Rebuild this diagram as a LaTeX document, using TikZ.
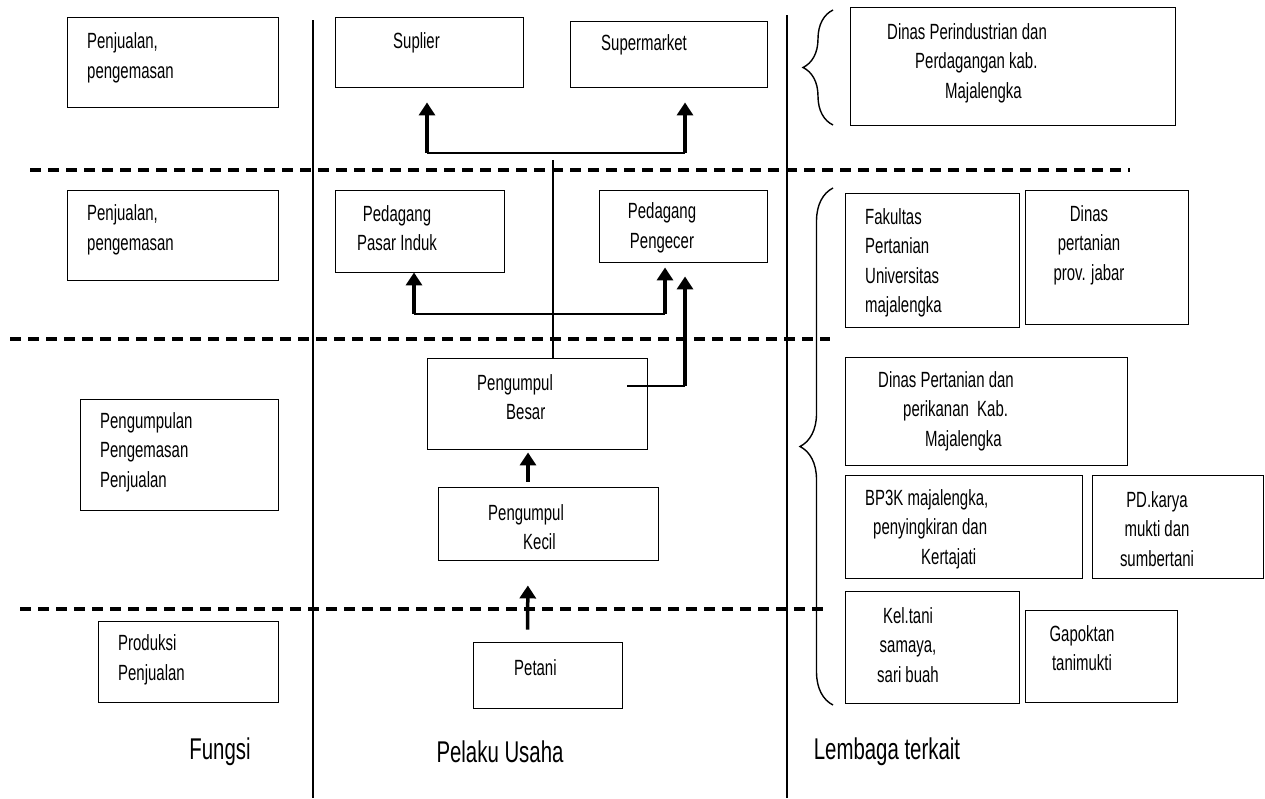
\documentclass[tikz,border=0pt]{standalone}
\usepackage{fontspec}
\setmainfont{Liberation Sans}[FakeStretch=0.68]
\usepackage{tikz}
\usetikzlibrary{positioning, arrows.meta, decorations.pathreplacing}

\begin{document}
\begin{tikzpicture}[%
    x=1pt, y=-1pt,
    >={Triangle[width=16pt,length=13pt]},
    box/.style={draw, line width=0.9pt, inner sep=0pt},
    txt/.style={anchor=west, align=left, inner sep=0pt, font=\fontsize{22}{29.5}\selectfont},
    ctxt/.style={txt, anchor=center, align=center},
    arr/.style={->, line width=3.5pt},
    link/.style={line width=2.2pt},
    sep/.style={line width=3.2pt, dash pattern=on 11pt off 7pt},
    col/.style={line width=1.8pt},
    brc/.style={decorate, decoration={brace, amplitude=#1}, line width=1.4pt},
    head/.style={inner sep=0pt, font=\fontsize{30}{32}\selectfont}
  ]
    \useasboundingbox (0,0) rectangle (1265,798);

    % kolom dan batas
    \draw[col] (313,20) -- (313,798);
    \draw[col] (787,15) -- (787,798);
    \draw[sep] (30,170) -- (1130,170);
    \draw[sep] (10,339) -- (830,339);
    \draw[sep] (20,609) -- (828,609);

    % fungsi
    \node[box, minimum width=211, minimum height=90] (f1) at (172.5,62) {};
    \node[txt] (f1t) at (87,58) {Penjualan,\\pengemasan};
    \node[box, minimum width=211, minimum height=90] (f2) at (172.5,235) {};
    \node[txt] (f2t) at (87,230) {Penjualan,\\pengemasan};
    \node[box, minimum width=198, minimum height=111] (f3) at (179,454.5) {};
    \node[txt] (f3t) at (100,452) {Pengumpulan\\Pengemasan\\Penjualan};
    \node[box, minimum width=180, minimum height=81] (f4) at (188,661.5) {};
    \node[txt] (f4t) at (118,660) {Produksi\\Penjualan};

    % pelaku usaha
    \node[box, minimum width=188, minimum height=70] (sup) at (429,52) {};
    \node[txt] (supt) at (393,43) {Suplier};
    \node[box, minimum width=197, minimum height=66] (sm) at (668.5,54) {};
    \node[txt] (smt) at (601,45) {Supermarket};
    \node[box, minimum width=169, minimum height=82] (pi) at (419.5,231) {};
    \node[ctxt] (pit) at (397,228) {Pedagang\\Pasar Induk};
    \node[box, minimum width=168, minimum height=72] (pe) at (683,226) {};
    \node[ctxt] (pet) at (662,228) {Pedagang\\Pengecer};
    \node[box, minimum width=220, minimum height=91] (pb) at (537,403.5) {};
    \node[txt] (pbt) at (477,397) {Pengumpul\\\hspace*{29pt}Besar};
    \node[box, minimum width=220, minimum height=73] (pk) at (548,523.5) {};
    \node[txt] (pkt) at (488,527) {Pengumpul\\\hspace*{35pt}Kecil};
    \node[box, minimum width=149, minimum height=66] (pt) at (547.5,675) {};
    \node[txt] (ptt) at (514,668) {Petani};

    % alur
    \coordinate (s1) at (427,153);
    \coordinate (s2) at (685,153);
    \coordinate (m1) at (414,314);
    \coordinate (m2) at (665,314);
    \coordinate (r1) at (627,386);
    \coordinate (r2) at (685,386);
    \draw[arr, shorten <=12pt, shorten >=25pt] ([xshift=-20pt]pt.north) -- ([xshift=-20pt]pk.south);
    \draw[arr, shorten <=5pt, shorten >=3pt] ([xshift=-20pt]pk.north) -- ([xshift=-20pt]pk.north |- pb.south);
    \draw[link, shorten >=7pt] ([xshift=16pt]pb.north) -- ([xshift=16pt]pb.north |- s1);
    \draw[link] (s1) -- (s2);
    \draw[arr, shorten >=15pt] (s1) -- (s1 |- sup.south);
    \draw[arr, shorten >=15pt] (s2) -- (s2 |- sm.south);
    \draw[link] (m1) -- (m2);
    \draw[arr] (m1) -- (m1 |- pi.south);
    \draw[arr, shorten >=5pt] (m2) -- (m2 |- pe.south);
    \draw[link] (r1) -- (r2);
    \draw[arr, shorten >=14pt] (r2) -- (r2 |- pe.south);

    % lembaga terkait
    \draw[brc=30pt] (833,125) -- (833,10);
    \draw[brc=33pt] (833,705) -- (833,188);
    \node[box, minimum width=325, minimum height=118] (d1) at (1012.5,66) {};
    \node[txt] (d1t) at (887,63) {Dinas Perindustrian dan\\\hspace*{28pt}Perdagangan kab.\\\hspace*{58pt}Majalengka};
    \node[box, minimum width=174, minimum height=134] (fk) at (932,260) {};
    \node[txt] (fkt) at (865,263) {Fakultas\\Pertanian\\Universitas\\majalengka};
    \node[box, minimum width=163, minimum height=134] (dp) at (1106.5,257) {};
    \node[ctxt] (dpt) at (1089,245) {Dinas\\pertanian\\prov. jabar};
    \node[box, minimum width=282, minimum height=108] (dk) at (986,411) {};
    \node[txt] (dkt) at (878,411) {Dinas Pertanian dan\\\hspace*{25pt}perikanan\ \ Kab.\\\hspace*{47pt}Majalengka};
    \node[box, minimum width=237, minimum height=103] (bp) at (963.5,526.5) {};
    \node[txt] (bpt) at (865,529) {BP3K majalengka,\\\hspace*{8pt}penyingkiran dan\\\hspace*{56pt}Kertajati};
    \node[box, minimum width=171, minimum height=103] (pd) at (1177.5,526.5) {};
    \node[ctxt] (pdt) at (1157,529) {PD.karya\\mukti dan\\sumbertani};
    \node[box, minimum width=174, minimum height=112] (kt) at (932,647) {};
    \node[ctxt] (ktt) at (908,645) {Kel.tani\\samaya,\\sari buah};
    \node[box, minimum width=152, minimum height=92] (gp) at (1101,656) {};
    \node[ctxt] (gpt) at (1082,648) {Gapoktan\\tanimukti};

    % judul kolom
    \node[head] (h1) at (220,752) {Fungsi};
    \node[head] (h2) at (500,752) {Pelaku Usaha};
    \node[head] (h3) at (887,752) {Lembaga terkait};
\end{tikzpicture}
\end{document}
